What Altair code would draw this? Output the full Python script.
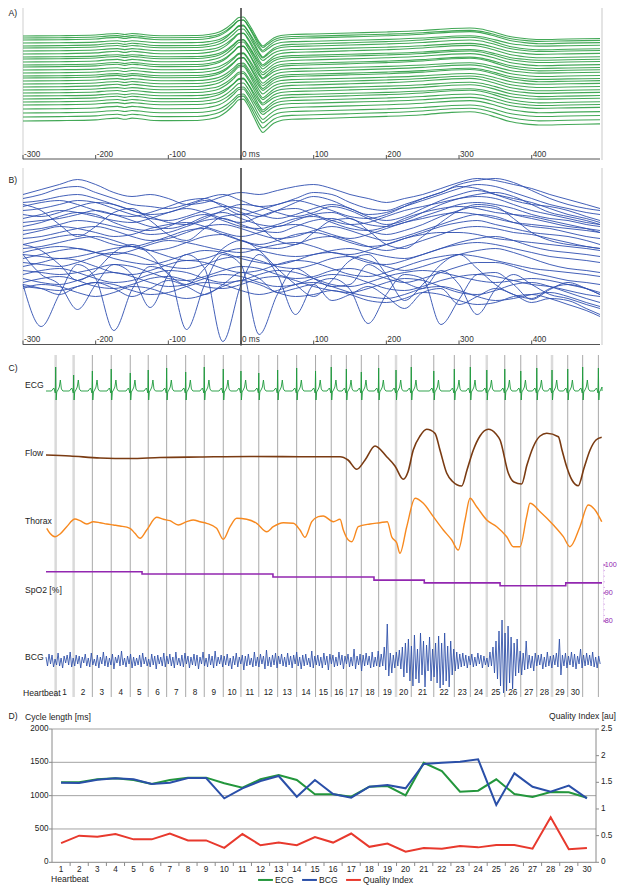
import altair as alt
import pandas as pd

W, H = 609, 879


def X(x):
    return round(x - 8, 2)


def Y(y):
    return round(y - 8, 2)


FONT = "Liberation Sans"
TXT = "#222222"
FS_LAB = 8.6
FS_TICK = 8.2

# ---------------- Panel A: ECG beats aligned on R peak ----------------
A_MS = [-300, -250, -200, -185, -170, -160, -150, -140, -120, -100, -60, -45, -30, -20, -10, -3, 3,
        10, 18, 25, 30, 36, 45, 55, 70, 100, 150, 200, 250, 290, 315, 330, 350, 370, 390, 410, 450, 494]
A_TEMPLATE = [0, 0.3, 1, 2, 2.5, 1.5, 2.5, 2, 0.5, 0.3, 0.5, 1.5, 4, 8, 14, 18.5, 19,
              13, 3, -6, -10, -7, -2, 0.5, 1.5, 2, 3, 4, 5.5, 7.5, 8, 7, 3.5, -0.5, -2.5, -3.5, -3, -2.5]
A_LEVEL = [124, 122, 120, 117, 114, 112, 109, 106, 103, 101, 98, 95, 93, 90, 87, 84, 82, 79,
           76, 73, 70, 67, 64, 61, 58, 55, 51, 47, 43, 39]
A_GAIN = [1.0, 0.95, 1.05, 0.9, 1.1, 1.0, 0.95, 1.08, 0.92, 1.0, 1.05, 0.98, 1.1, 0.9, 1.02,
          0.97, 1.06, 0.94, 1.0, 1.08, 0.96, 1.03, 0.9, 1.1, 1.0, 0.95, 1.05, 1.0, 1.1, 1.15]

# ---------------- Panel B: BCG segments aligned on R peak ----------------
B_MS = [-300, -275, -250, -225, -200, -175, -150, -125, -100, -75, -50, -25, 0, 25, 50, 75, 100,
        125, 150, 175, 200, 225, 250, 275, 300, 325, 350, 375, 400, 425, 450, 475, 494]
B_CURVES = [
    [150, 155, 160, 165, 160, 152, 148, 150, 146, 140, 142, 148, 152, 150, 154, 158, 160, 156, 150, 146, 142, 146, 150, 156, 162, 166, 164, 160, 156, 150, 145, 140, 136],
    [146, 150, 156, 158, 152, 146, 140, 138, 136, 140, 146, 150, 144, 138, 140, 146, 152, 150, 142, 136, 134, 140, 146, 152, 160, 164, 166, 162, 154, 146, 140, 136, 134],
    [142, 144, 148, 150, 146, 140, 134, 130, 132, 138, 144, 140, 132, 128, 134, 142, 148, 144, 136, 130, 132, 138, 144, 150, 156, 160, 158, 152, 146, 140, 136, 132, 130],
    [138, 142, 144, 140, 134, 130, 128, 132, 138, 144, 146, 138, 130, 134, 140, 144, 140, 134, 128, 126, 130, 138, 146, 152, 158, 156, 150, 144, 140, 138, 134, 128, 124],
    [134, 136, 140, 144, 142, 136, 130, 126, 124, 128, 134, 138, 136, 130, 126, 130, 136, 140, 136, 128, 124, 128, 136, 144, 150, 154, 150, 146, 142, 136, 130, 126, 122],
    [130, 128, 132, 138, 142, 140, 134, 128, 122, 120, 126, 134, 140, 138, 132, 128, 132, 138, 134, 126, 120, 124, 132, 140, 146, 150, 152, 148, 140, 132, 128, 124, 120],
    [126, 130, 134, 132, 128, 124, 122, 126, 132, 136, 132, 126, 122, 128, 134, 136, 130, 124, 120, 122, 128, 134, 138, 142, 146, 148, 146, 140, 134, 130, 126, 122, 120],
    [122, 124, 126, 130, 134, 130, 124, 118, 116, 120, 128, 132, 126, 120, 118, 124, 130, 132, 126, 120, 118, 122, 128, 134, 140, 142, 140, 136, 130, 126, 124, 120, 118],
    [118, 122, 128, 132, 130, 122, 116, 114, 118, 126, 130, 124, 118, 116, 120, 126, 128, 122, 116, 114, 118, 126, 132, 136, 138, 136, 132, 130, 128, 124, 120, 116, 112],
    [114, 116, 120, 124, 122, 118, 114, 110, 112, 118, 124, 126, 120, 114, 112, 118, 124, 126, 120, 114, 110, 114, 120, 128, 134, 138, 136, 130, 126, 122, 118, 116, 114],
    [110, 114, 118, 116, 112, 108, 110, 116, 120, 122, 118, 112, 108, 112, 118, 120, 116, 110, 106, 110, 116, 122, 126, 130, 132, 130, 126, 122, 120, 118, 116, 114, 112],
    [106, 108, 112, 116, 118, 114, 108, 104, 106, 112, 118, 120, 116, 110, 106, 108, 114, 118, 114, 108, 104, 108, 114, 120, 126, 130, 128, 122, 118, 116, 112, 108, 106],
    [100, 104, 108, 110, 106, 100, 98, 102, 108, 114, 116, 110, 104, 100, 104, 110, 112, 108, 102, 98, 100, 106, 112, 118, 122, 124, 120, 116, 112, 110, 108, 104, 100],
    [96, 98, 102, 106, 108, 104, 98, 94, 96, 102, 108, 110, 104, 98, 96, 100, 106, 108, 104, 98, 94, 98, 104, 110, 116, 118, 116, 112, 110, 106, 102, 98, 96],
    [92, 96, 98, 96, 92, 90, 94, 100, 104, 102, 98, 94, 92, 96, 100, 102, 98, 92, 90, 94, 100, 106, 110, 112, 112, 110, 106, 104, 102, 100, 98, 96, 94],
    [90, 88, 86, 88, 92, 96, 98, 94, 88, 84, 86, 92, 96, 94, 90, 88, 90, 94, 96, 92, 88, 86, 90, 96, 102, 106, 108, 104, 98, 94, 92, 90, 88],
    [86, 90, 94, 96, 92, 86, 82, 80, 84, 90, 94, 92, 86, 82, 80, 84, 90, 92, 88, 82, 80, 84, 90, 96, 100, 102, 100, 96, 92, 88, 86, 84, 82],
    [82, 80, 78, 82, 88, 92, 90, 84, 78, 76, 80, 86, 88, 84, 78, 76, 80, 86, 88, 84, 78, 74, 78, 84, 90, 94, 96, 92, 86, 80, 76, 74, 72],
    [78, 82, 86, 84, 78, 72, 70, 74, 80, 84, 82, 76, 72, 74, 80, 84, 82, 76, 70, 68, 72, 78, 84, 88, 90, 88, 84, 80, 76, 74, 72, 70, 68],
    [74, 72, 70, 72, 76, 80, 78, 72, 66, 64, 68, 74, 78, 76, 70, 66, 68, 74, 76, 72, 66, 62, 66, 72, 78, 82, 82, 78, 72, 68, 64, 62, 60],
    [70, 74, 76, 72, 66, 62, 64, 70, 74, 72, 66, 62, 64, 70, 74, 72, 66, 60, 58, 62, 68, 72, 74, 72, 68, 64, 62, 64, 66, 64, 60, 56, 52],
    [66, 62, 60, 64, 70, 72, 68, 62, 58, 60, 66, 70, 68, 62, 58, 60, 66, 70, 68, 62, 56, 54, 58, 64, 68, 70, 68, 64, 60, 58, 54, 50, 48],
    [62, 66, 68, 64, 58, 56, 60, 66, 68, 64, 58, 56, 60, 66, 68, 64, 58, 54, 52, 56, 62, 66, 64, 58, 52, 50, 54, 60, 62, 58, 52, 46, 42],
    [58, 56, 54, 58, 62, 60, 54, 50, 52, 58, 62, 60, 54, 50, 54, 60, 62, 58, 52, 48, 46, 50, 56, 58, 54, 48, 44, 46, 50, 52, 48, 42, 38],
    [56, 60, 58, 52, 48, 52, 58, 56, 50, 46, 50, 58, 64, 60, 52, 48, 50, 54, 50, 44, 42, 46, 52, 50, 44, 40, 42, 48, 50, 46, 40, 34, 28],
    [60, 56, 50, 58, 62, 56, 48, 56, 64, 58, 50, 60, 72, 66, 52, 56, 60, 44, 50, 58, 48, 36, 52, 56, 40, 48, 56, 50, 42, 46, 44, 36, 30],
    [100, 94, 80, 64, 74, 92, 100, 90, 70, 60, 76, 96, 104, 94, 76, 60, 48, 64, 84, 90, 70, 44, 60, 80, 90, 76, 60, 50, 46, 56, 60, 56, 50],
    [140, 134, 120, 108, 118, 132, 136, 124, 110, 104, 116, 128, 130, 118, 104, 100, 112, 124, 126, 114, 100, 96, 108, 122, 134, 140, 138, 126, 112, 104, 100, 98, 96],
    [60, 18, 50, 80, 66, 14, 55, 78, 72, 15, 60, 90, 80, 10, 50, 76, 66, 58, 60, 80, 70, 62, 56, 74, 60, 30, 55, 70, 60, 50, 46, 40, 36],
    [90, 70, 60, 35, 60, 80, 70, 37, 70, 90, 76, 3, 60, 90, 70, 30, 60, 66, 55, 21, 50, 70, 66, 20, 45, 70, 72, 60, 45, 55, 62, 56, 50],
]

AXIS_TICKS = [-300, -200, -100, 0, 100, 200, 300, 400]
AXIS_LABELS = ["-300", "-200", "-100", "0 ms", "100", "200", "300", "400"]

# ---------------- Panel C: raw recordings (time in s) ----------------
BEAT_T = [0.64, 1.83, 3.07, 4.32, 5.58, 6.77, 7.99, 9.25, 10.48, 11.74, 12.91, 14.09, 15.34, 16.60,
          17.85, 18.89, 19.89, 20.88, 22.03, 23.18, 24.19, 25.68, 27.04, 28.10, 29.19, 30.38, 31.44,
          32.50, 33.51, 34.55, 35.54, 36.58]
LIGHT_BEATS = [0, 1, 19, 24, 28]
HB_LABELS = [str(i) for i in range(1, 31)]

ECG_DT = [-0.28, -0.18, -0.12, -0.06, -0.025, 0.0, 0.03, 0.07, 0.15, 0.24, 0.31, 0.38, 0.48]
ECG_SHAPE = [0, 2, 3, 0, -2, 0, -9, -1, 1, 4, 11, 2, 0]
ECG_R = [24, 16, 20, 22, 18, 21, 23, 19, 24, 22, 20, 18, 21, 23, 20, 24, 22, 19, 23, 21, 24, 20,
         22, 24, 21, 22, 20, 23, 21, 22, 24, 23]

FLOW_T = [0.00, 1.59, 3.58, 5.56, 7.55, 10.20, 13.51, 16.82, 19.47, 20.00, 20.58, 21.13, 21.79, 22.56,
          23.11, 23.66, 23.97, 24.32, 24.77, 25.21, 25.76, 26.09, 26.54, 26.89, 27.53, 27.88, 28.30,
          28.74, 29.29, 29.80, 30.07, 30.62, 30.99, 31.50, 31.85, 32.27, 32.72, 33.16, 33.93, 34.17,
          34.48, 34.83, 35.25, 35.63, 36.03, 36.42, 36.80]
FLOW_V = [2, 1, -1, -1.5, -0.5, 0, 0.5, 0.3, 0.3, -3, -12.3, -3, 11, 0.3, -9, -22.3, -15, 7, 21, 27.7,
          23.7, 7, -16.3, -24, -29, -13, 7, 21, 27.7, 23, 17, -16.3, -25, -27, -8, 10.3, 21, 23.7,
          20.3, 7, -9.7, -23, -28.7, -11, 7, 17, 19.7]

THORAX_T = [0.05, 0.26, 0.60, 0.93, 1.37, 1.92, 2.25, 2.70, 3.13, 3.58, 4.02, 4.46, 4.90, 5.56, 5.89,
            6.23, 6.67, 7.33, 7.77, 8.21, 8.76, 9.32, 9.75, 10.20, 10.64, 11.30, 11.74, 12.19, 12.63,
            13.29, 13.95, 14.62, 15.05, 15.72, 16.38, 16.82, 17.15, 17.60, 18.03, 18.36, 19.03, 19.47,
            19.69, 20.02, 20.26, 20.68, 21.46, 22.12, 22.60, 22.89, 23.23, 23.44, 23.89, 24.44, 24.99,
            25.65, 26.31, 26.87, 27.30, 27.75, 28.08, 28.52, 29.19, 29.85, 30.51, 30.95, 31.39, 31.83,
            32.05, 32.72, 33.60, 34.26, 34.70, 35.36, 35.91, 36.36, 36.80]
THORAX_V = [-7.3, -12.3, -15.7, -13, -5.7, 2, 0.3, -3, -0.7, -1.7, -3, -4, -5, -7.3, -12.3, -17.3, -9,
            3.7, 1.7, 0.3, -4, -0.7, 1, -0.7, -2.3, -7.3, -18.3, -5.7, 2.7, 1.7, -2.3, -10.7, -5.7,
            -1.7, -2.3, -9, -16.3, -0.7, 4.3, 5, -0.7, 1.7, -9, -19, -20.7, -5.7, -3, -1.7, -0.7,
            -15.7, -22, -32.3, -5.7, 22.7, 17.7, 4.3, -9, -19, -29, 1, 22.7, 14.3, 1, -5.7, -15.7,
            -25.7, -25.7, 4.3, 17.7, 9.3, -4, -15.7, -25.7, -5.7, 16, 11, -0.7]

SPO2_T = [0, 6.36, 15.03, 21.72, 25.05, 30.07, 34.42, 36.82]
SPO2_V = [97.6, 96.8, 95.7, 94.6, 93.6, 92.6, 93.6, 93.6]
SPO2_TICKS = [80, 90, 100]

BCG_DT = 0.1
BCG_V = [
    4, -5, 7, -3, 6, -6, 2, -4, 8, -5, 3, -7, 5, -2, 6, -4, 9, -6, 3, -5,
    6, -3, 5, -7, 4, -2, 7, -5, 3, -6, 8, -4, 2, -5, 6, -7, 4, -3, 9, -5,
    5, -6, 3, -4, 7, -8, 4, -2, 6, -5, 10, -4, 3, -6, 5, -3, 7, -7, 4, -5,
    3, -4, 6, -6, 8, -3, 4, -5, 2, -6, 7, -4, 5, -8, 6, -3, 4, -5, 8, -6,
    5, -3, 7, -5, 4, -7, 9, -4, 3, -5, 6, -6, 8, -3, 5, -7, 4, -4, 7, -5,
    6, -8, 4, -3, 9, -5, 3, -6, 7, -4, 5, -7, 10, -5, 4, -3, 6, -6, 5, -4,
    7, -5, 3, -8, 5, -4, 8, -6, 4, -3, 6, -9, 5, -5, 7, -4, 3, -6, 9, -5,
    4, -6, 7, -3, 5, -8, 11, -5, 4, -6, 6, -4, 8, -7, 5, -3, 7, -5, 4, -6,
    8, -4, 5, -7, 6, -3, 9, -5, 4, -8, 6, -5, 7, -4, 3, -6, 10, -7, 5, -4,
    6, -5, 4, -7, 8, -4, 5, -9, 7, -3, 6, -6, 4, -5, 9, -4, 6, -8, 5, -3,
    7, -6, 4, -5, 12, -8, 5, -4, 7, -10, 6, -5, 8, -4, 5, -7, 9, -6, 4, -5,
    10, -6, 7, -5, 14, -9, 37, -15, 8, -12, 6, -7, 9, -5, 11, -8, 14, -16, 18, -12,
    22, -20, 15, -25, 26, -18, 12, -22, 28, -14, 20, -26, 16, -10, 24, -20, 12, -16, 18, -22,
    25, -27, 18, -24, 28, -20, 15, -26, 20, -14, 12, -10, 9, -8, 7, -6, 8, -5, 6, -7,
    5, -4, 7, -6, 4, -5, 8, -3, 6, -7, 5, -4, 3, -6, 9, -5, 14, -12, 20, -18,
    30, -25, 41, -32, 28, -30, 35, -22, 24, -28, 18, -15, 22, -12, 10, -14, 8, -9, 20, -8,
    6, -7, 5, -10, 8, -5, 6, -4, 7, -8, 4, -6, 9, -5, 5, -7, 6, -4, 8, -6,
    22, -14, 6, -5, 8, -7, 5, -4, 9, -6, 7, -8, 5, -3, 12, -7, 6, -5, 8, -4,
    6, -5, 9, -6, 4, -7, 5, -3,
]

# ---------------- Panel D: cycle lengths and quality index ----------------
HEARTBEAT = list(range(1, 31))
ECG_CL = [1200, 1200, 1245, 1260, 1235, 1175, 1235, 1270, 1270, 1185, 1120, 1245, 1310, 1235, 1020,
          1020, 984, 1134, 1145, 1005, 1494, 1370, 1059, 1074, 1245, 1025, 980, 1055, 1050, 969]
BCG_CL = [1195, 1190, 1240, 1260, 1245, 1175, 1195, 1265, 1265, 960, 1110, 1220, 1295, 984, 1235,
          1025, 969, 1134, 1160, 1110, 1475, 1495, 1510, 1545, 860, 1335, 1134, 1060, 1150, 960]
QUALITY = [0.36, 0.50, 0.48, 0.53, 0.43, 0.43, 0.54, 0.41, 0.41, 0.27, 0.53, 0.32, 0.37, 0.32, 0.475,
           0.37, 0.54, 0.29, 0.35, 0.20, 0.27, 0.255, 0.305, 0.28, 0.325, 0.325, 0.255, 0.845, 0.245, 0.27]
CL_TICKS = [0, 500, 1000, 1500, 2000]
QI_TICKS = [0, 0.5, 1, 1.5, 2, 2.5]
QI_LABELS = ["0", "0.5", "1", "1.5", "2", "2.5"]

GREEN_A = "#22993a"
BLUE_B = "#2f4fb0"
C_GREEN = "#1e9a3c"
C_BROWN = "#7a3b12"
C_ORANGE = "#f7891f"
C_PURPLE = "#9227b0"
C_BLUE = "#2b4ea8"
D_GREEN = "#23963c"
D_BLUE = "#2a4fa8"
D_RED = "#e8392d"


def sc(dom, rng):
    return alt.Scale(domain=dom, range=rng, nice=False, zero=False)


ONE = alt.Data(values=[{"k": 1}])


def label(text, x, y, size=FS_LAB, align="left", color=TXT, baseline="middle"):
    return alt.Chart(ONE).mark_text(
        text=text, align=align, baseline=baseline, font=FONT, fontSize=size, color=color
    ).encode(x=alt.value(max(X(x), 0.5)), y=alt.value(max(Y(y), 5)))


def hrule(x1, x2, y, color, width=1):
    return alt.Chart(ONE).mark_rule(color=color, strokeWidth=width).encode(
        x=alt.value(X(x1)), x2=alt.value(X(x2)), y=alt.value(Y(y)))


def vrule(x, y1, y2, color, width=1):
    return alt.Chart(ONE).mark_rule(color=color, strokeWidth=width).encode(
        x=alt.value(X(x)), y=alt.value(Y(y1)), y2=alt.value(Y(y2)))


layers = []

# ======== Panel A ========
ms_scale = sc([-300, 494], [X(23), X(600)])
rows = []
for i, (lev, g) in enumerate(zip(A_LEVEL, A_GAIN)):
    for m, v in zip(A_MS, A_TEMPLATE):
        rows.append({"ms": m, "level": lev + g * v, "trace": i})
dfA = pd.DataFrame(rows)
layers.append(vrule(23, 0, 160, "#cfcfcf"))
layers.append(vrule(602, 0, 160, "#e4e4e4", 2))
layers.append(
    alt.Chart(dfA).mark_line(color=GREEN_A, strokeWidth=1.1, opacity=0.85, interpolate="monotone").encode(
        x=alt.X("ms:Q", scale=ms_scale, axis=None),
        y=alt.Y("level:Q", scale=sc([0, 160], [Y(160), Y(0)]), axis=None),
        detail="trace:N",
    )
)

dfTicks = pd.DataFrame({"ms": AXIS_TICKS, "lab": AXIS_LABELS})


def ms_axis(yline, top):
    out = []
    out.append(hrule(23, 600, yline, "#555555"))
    out.append(alt.Chart(dfTicks).mark_rule(color="#555555").encode(
        x=alt.X("ms:Q", scale=ms_scale, axis=None), y=alt.value(Y(yline - 4)), y2=alt.value(Y(yline))))
    out.append(alt.Chart(dfTicks).mark_text(align="left", baseline="bottom", dx=1, font=FONT, fontSize=FS_TICK,
                                            color="#333333").encode(
        x=alt.X("ms:Q", scale=ms_scale, axis=None), y=alt.value(Y(yline - 0.3)), text="lab:N"))
    out.append(alt.Chart(pd.DataFrame({"ms": [0]})).mark_rule(color="#444444", strokeWidth=1.6).encode(
        x=alt.X("ms:Q", scale=ms_scale, axis=None), y=alt.value(Y(top)), y2=alt.value(Y(yline + 1))))
    return out


layers += ms_axis(159, 0)
layers.append(label("A)", 2, 8))

# ======== Panel B ========
rows = []
for i, curve in enumerate(B_CURVES):
    for m, v in zip(B_MS, curve):
        rows.append({"ms": m, "level": v, "trace": i})
dfB = pd.DataFrame(rows)
layers.append(vrule(23, 168, 345, "#cfcfcf"))
layers.append(vrule(602, 168, 345, "#e4e4e4", 2))
layers.append(
    alt.Chart(dfB).mark_line(color=BLUE_B, strokeWidth=1, opacity=0.9, interpolate="monotone").encode(
        x=alt.X("ms:Q", scale=ms_scale, axis=None),
        y=alt.Y("level:Q", scale=sc([0, 170], [Y(344.5), Y(174.5)]), axis=None),
        detail="trace:N",
    )
)
layers += ms_axis(344.5, 168)
layers.append(label("B)", 2, 180))

# ======== Panel C ========
t_scale = sc([0, 36.82], [X(46), X(602)])
dfBeat = pd.DataFrame({"t": BEAT_T, "light": [i in LIGHT_BEATS for i in range(len(BEAT_T))]})
layers.append(alt.Chart(dfBeat).transform_filter("datum.light").mark_rule(color="#dadada", strokeWidth=2.5).encode(
    x=alt.X("t:Q", scale=t_scale, axis=None), y=alt.value(Y(355)), y2=alt.value(Y(697))))
layers.append(alt.Chart(dfBeat).transform_filter("!datum.light").mark_rule(color="#a9a9a9", strokeWidth=1).encode(
    x=alt.X("t:Q", scale=t_scale, axis=None), y=alt.value(Y(355)), y2=alt.value(Y(697))))

# ECG strip
ecg_rows = [{"t": 0.0, "v": 0.0}]
for tb, r in zip(BEAT_T, ECG_R):
    for dt, v in zip(ECG_DT, ECG_SHAPE):
        tt = tb + dt
        if 0 <= tt <= 36.82:
            ecg_rows.append({"t": tt, "v": r if dt == 0 else v})
ecg_rows.append({"t": 36.82, "v": 0.0})
dfECG = pd.DataFrame(ecg_rows).sort_values("t")
layers.append(alt.Chart(dfECG).mark_line(color=C_GREEN, strokeWidth=1, opacity=0.9).encode(
    x=alt.X("t:Q", scale=t_scale, axis=None),
    y=alt.Y("v:Q", scale=sc([-30, 30], [Y(421), Y(361)]), axis=None)))

dfFlow = pd.DataFrame({"t": FLOW_T, "v": FLOW_V})
layers.append(alt.Chart(dfFlow).mark_line(color=C_BROWN, strokeWidth=1.6, interpolate="monotone").encode(
    x=alt.X("t:Q", scale=t_scale, axis=None),
    y=alt.Y("v:Q", scale=sc([-40, 40], [Y(497), Y(417)]), axis=None)))

dfThx = pd.DataFrame({"t": THORAX_T, "v": THORAX_V})
layers.append(alt.Chart(dfThx).mark_line(color=C_ORANGE, strokeWidth=1.4, interpolate="monotone").encode(
    x=alt.X("t:Q", scale=t_scale, axis=None),
    y=alt.Y("v:Q", scale=sc([-40, 40], [Y(561), Y(481)]), axis=None)))

spo2_scale = sc([80, 100], [Y(621), Y(565)])
dfSp = pd.DataFrame({"t": SPO2_T, "v": SPO2_V})
layers.append(alt.Chart(dfSp).mark_line(color=C_PURPLE, strokeWidth=1.6, interpolate="step-after").encode(
    x=alt.X("t:Q", scale=t_scale, axis=None),
    y=alt.Y("v:Q", scale=spo2_scale, axis=None)))
# SpO2 right axis (squeezed a little so its labels stay inside the page)
SPX = 603.5
layers.append(alt.Chart(pd.DataFrame({"a": [79.5], "b": [100.5]})).mark_rule(
    color="#e3c4ee", strokeWidth=1, strokeDash=[1, 1]).encode(
    x=alt.value(X(SPX)), y=alt.Y("a:Q", scale=spo2_scale, axis=None), y2="b:Q"))
dfSpMinor = pd.DataFrame({"v": list(range(80, 101, 2))})
layers.append(alt.Chart(dfSpMinor).mark_rule(color="#d9b0e8", strokeWidth=1).encode(
    x=alt.value(X(SPX)), x2=alt.value(X(SPX + 1.5)), y=alt.Y("v:Q", scale=spo2_scale, axis=None)))
dfSpT = pd.DataFrame({"v": SPO2_TICKS, "lab": [str(v) for v in SPO2_TICKS]})
layers.append(alt.Chart(dfSpT).mark_rule(color=C_PURPLE, strokeWidth=1).encode(
    x=alt.value(X(SPX)), x2=alt.value(X(SPX + 2)), y=alt.Y("v:Q", scale=spo2_scale, axis=None)))
layers.append(alt.Chart(dfSpT).mark_text(align="left", baseline="middle", font=FONT, fontSize=7.2,
                                         color=C_PURPLE).encode(
    x=alt.value(X(SPX + 1.2)), y=alt.Y("v:Q", scale=spo2_scale, axis=None), text="lab:N"))

dfBCG = pd.DataFrame({"t": [round(i * BCG_DT, 2) for i in range(len(BCG_V))], "v": BCG_V})
layers.append(alt.Chart(dfBCG).mark_line(color=C_BLUE, strokeWidth=0.9, opacity=0.95).encode(
    x=alt.X("t:Q", scale=t_scale, axis=None),
    y=alt.Y("v:Q", scale=sc([-45, 45], [Y(706), Y(616)]), axis=None)))

# heartbeat numbers between beat lines
mids = [(BEAT_T[i] + BEAT_T[i + 1]) / 2 for i in range(len(HB_LABELS))]
dfHB = pd.DataFrame({"t": mids, "lab": HB_LABELS})
layers.append(alt.Chart(dfHB).mark_text(align="center", baseline="middle", font=FONT, fontSize=FS_TICK,
                                        color=TXT).encode(
    x=alt.X("t:Q", scale=t_scale, axis=None), y=alt.value(Y(692.5)), text="lab:N"))

layers.append(label("C)", 2, 368))
layers.append(label("ECG", 25, 385))
layers.append(label("Flow", 25, 453))
layers.append(label("Thorax", 25, 521))
layers.append(label("SpO2 [%]", 25, 590))
layers.append(label("BCG", 25, 657))
layers.append(label("Heartbeat", 23, 692.5))

# ======== Panel D ========
hb_scale = sc([0.5, 30.5], [X(52), X(596)])
cl_scale = sc([0, 2000], [Y(862.3), Y(729)])
qi_scale = sc([0, 2.5], [Y(862.3), Y(729)])

dfGrid = pd.DataFrame({"v": CL_TICKS[1:]})
layers.append(alt.Chart(dfGrid).mark_rule(color="#a3a3a3", strokeWidth=1).encode(
    x=alt.value(X(52)), x2=alt.value(X(596)), y=alt.Y("v:Q", scale=cl_scale, axis=None)))
layers.append(hrule(52, 596, 862.3, "#8a8a8a"))
layers.append(vrule(52, 729, 862.3, "#8a8a8a"))
layers.append(vrule(596, 729, 862.3, "#8a8a8a"))

dfCLT = pd.DataFrame({"v": CL_TICKS, "lab": [str(v) for v in CL_TICKS]})
layers.append(alt.Chart(dfCLT).mark_rule(color="#8a8a8a").encode(
    x=alt.value(X(49)), x2=alt.value(X(52)), y=alt.Y("v:Q", scale=cl_scale, axis=None)))
layers.append(alt.Chart(dfCLT).mark_text(align="right", baseline="middle", font=FONT, fontSize=FS_TICK,
                                         color=TXT).encode(
    x=alt.value(X(48.5)), y=alt.Y("v:Q", scale=cl_scale, axis=None), text="lab:N"))

dfQIT = pd.DataFrame({"v": QI_TICKS, "lab": QI_LABELS})
layers.append(alt.Chart(dfQIT).mark_rule(color="#8a8a8a").encode(
    x=alt.value(X(596)), x2=alt.value(X(599)), y=alt.Y("v:Q", scale=qi_scale, axis=None)))
layers.append(alt.Chart(dfQIT).mark_text(align="left", baseline="middle", font=FONT, fontSize=FS_TICK,
                                         color=TXT).encode(
    x=alt.value(X(601)), y=alt.Y("v:Q", scale=qi_scale, axis=None), text="lab:N"))

dfXT = pd.DataFrame({"h": [h + 0.5 for h in HEARTBEAT[:-1]]})
layers.append(alt.Chart(dfXT).mark_rule(color="#8a8a8a").encode(
    x=alt.X("h:Q", scale=hb_scale, axis=None), y=alt.value(Y(862.3)), y2=alt.value(Y(866))))
dfXL = pd.DataFrame({"h": HEARTBEAT, "lab": [str(h) for h in HEARTBEAT]})
layers.append(alt.Chart(dfXL).mark_text(align="center", baseline="middle", font=FONT, fontSize=FS_TICK,
                                        color=TXT).encode(
    x=alt.X("h:Q", scale=hb_scale, axis=None), y=alt.value(Y(870)), text="lab:N"))

color_scale = alt.Scale(domain=["ECG", "BCG", "Quality Index"], range=[D_GREEN, D_BLUE, D_RED])
leg = alt.Legend(orient="none", legendX=X(257), legendY=Y(871), direction="horizontal", title=None,
                 symbolType="stroke", symbolSize=220, symbolStrokeWidth=2, labelFont=FONT,
                 labelFontSize=FS_LAB, labelColor=TXT, columnPadding=4, labelOffset=1, padding=0,
                 symbolOffset=0)

dfCL = pd.DataFrame(
    [{"hb": h, "v": v, "series": "ECG"} for h, v in zip(HEARTBEAT, ECG_CL)]
    + [{"hb": h, "v": v, "series": "BCG"} for h, v in zip(HEARTBEAT, BCG_CL)]
)
layers.append(alt.Chart(dfCL).mark_line(strokeWidth=2).encode(
    x=alt.X("hb:Q", scale=hb_scale, axis=None),
    y=alt.Y("v:Q", scale=cl_scale, axis=None),
    color=alt.Color("series:N", scale=color_scale, legend=leg),
))
dfQI = pd.DataFrame({"hb": HEARTBEAT, "v": QUALITY, "series": "Quality Index"})
layers.append(alt.Chart(dfQI).mark_line(strokeWidth=2).encode(
    x=alt.X("hb:Q", scale=hb_scale, axis=None),
    y=alt.Y("v:Q", scale=qi_scale, axis=None),
    color=alt.Color("series:N", scale=color_scale, legend=leg),
))

layers.append(label("D)", 2, 716))
layers.append(label("Cycle length [ms]", 25, 716.5))
layers.append(label("Quality Index [au]", 616, 716, align="right"))
layers.append(label("Heartbeat", 51, 878.5))

chart = alt.layer(*layers).resolve_scale(x="independent", y="independent").properties(
    width=W, height=H, padding=0, autosize=alt.AutoSizeParams(type="none")
).configure_view(stroke=None)

chart.save("out.html", embed_options={"renderer": "svg", "actions": False})
